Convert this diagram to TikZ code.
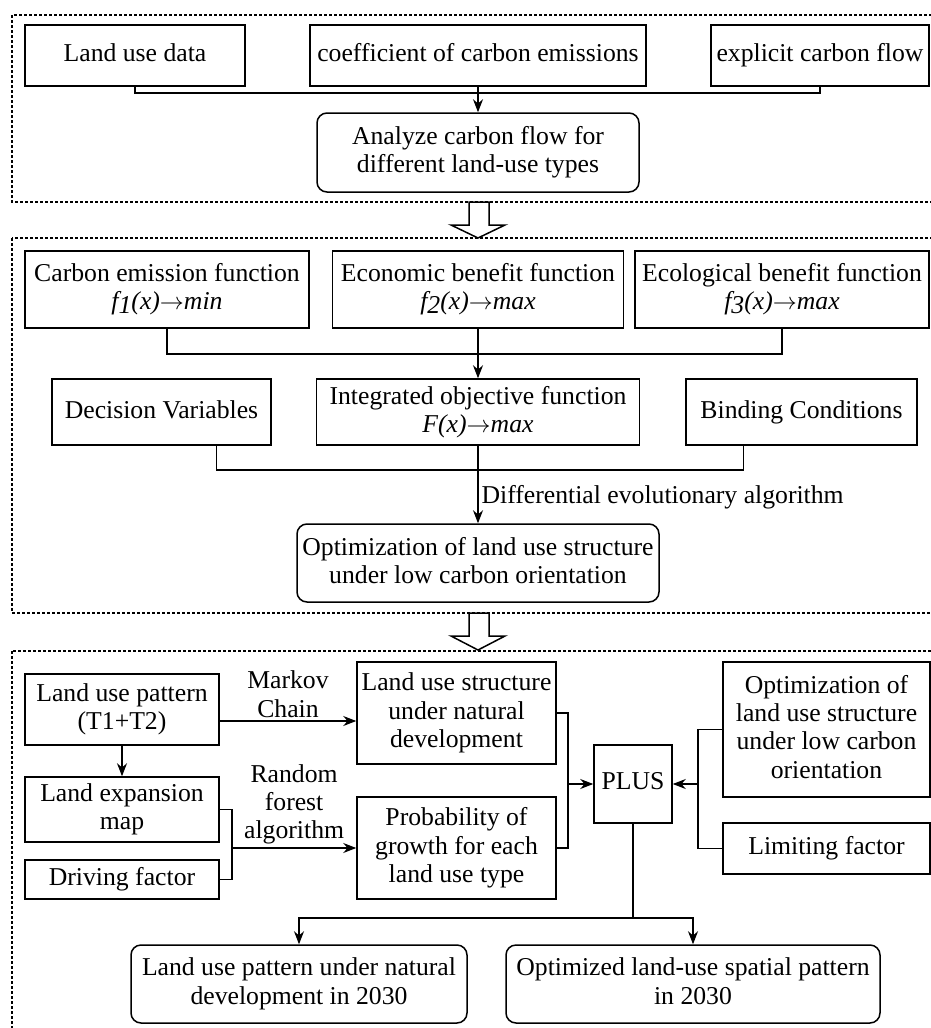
\documentclass[tikz,border=0pt]{standalone}
\usepackage{fontspec}
\setmainfont{Liberation Serif}
\usepackage{tikz}
\usetikzlibrary{arrows.meta,calc}

\tikzset{
  box/.style={draw, line width=0.75pt, fill=white, align=center, inner sep=1pt, font={\fontsize{12.85}{14.2}\selectfont},
    execute at begin node={\vphantom{Ag}}, execute at end node={\vphantom{g}}},
  rbox/.style={box, rounded corners=5pt},
  sect/.style={draw, line width=0.6pt, dash pattern=on 1.5pt off 1pt},
  hollow/.style={draw, line width=0.75pt, fill=white},
  lbl/.style={align=center, inner sep=1.5pt, font={\fontsize{12.85}{14.2}\selectfont}},
}
\newcommand{\fxto}[2]{\textit{#1\raisebox{-.3ex}{#2}(x)}\ensuremath{\rightarrow}}

\begin{document}
\begin{tikzpicture}[x=0.5pt, y=-0.5pt, line width=0.6pt, >={Stealth[length=6.5pt,width=5pt]}]
      \useasboundingbox (0,0) rectangle (931,1028);
      % dashed frames and hollow arrows
      \draw[sect] (12,15) rectangle (940,202);
      \draw[sect] (12,238) rectangle (940,613);
      \draw[sect] (12,651) rectangle (940,1040);
      \draw[hollow] (469,202) -- (469,225) -- (451,225) -- (478,238) -- (505,225) -- (489,225) -- (489,202) -- cycle;
      \draw[hollow] (469,613) -- (469,636) -- (451,636) -- (478,650) -- (505,636) -- (489,636) -- (489,613) -- cycle;

      % part 1
      \node[box, minimum width=110pt, minimum height=30.5pt] (lud) at (135,55.5) {Land use data};
      \node[box, minimum width=168pt, minimum height=30.5pt] (coef) at (478,55.5) {coefficient of carbon emissions};
      \node[box, minimum width=109pt, minimum height=30.5pt] (expl) at (820,55.5) {explicit carbon flow};
      \node[rbox, minimum width=161pt, minimum height=39.5pt] (ana) at (478,152.5) {Analyze carbon flow for\\different land-use types};
      \coordinate (j1) at (478,93);
      \draw (lud.south) |- (j1) -| (expl.south);
      \draw[->] (coef.south) -- (ana.north);

      % part 2
      \node[box, minimum width=142pt, minimum height=38.5pt] (cef) at (167,289.5) {Carbon emission function\\\fxto{f}{1}\textit{min}};
      \node[box, minimum width=145.5pt, minimum height=38.5pt] (ebf) at (478,289.5) {Economic benefit function\\\fxto{f}{2}\textit{max}};
      \node[box, minimum width=147pt, minimum height=38.5pt] (ecobf) at (782,289.5) {Ecological benefit function\\\fxto{f}{3}\textit{max}};
      \node[box, minimum width=109.5pt, minimum height=33pt] (dv) at (161.5,412) {Decision Variables};
      \node[box, minimum width=161.5pt, minimum height=33pt] (iof) at (478,412) {Integrated objective function\\\textit{F(x)}\ensuremath{\rightarrow}\textit{max}};
      \node[box, minimum width=115.5pt, minimum height=33pt] (bc) at (801.5,412) {Binding Conditions};
      \node[rbox, minimum width=181pt, minimum height=39pt] (opt) at (478,563) {Optimization of land use structure\\under low carbon orientation};
      \coordinate (j2) at (478,354);
      \coordinate (j3) at (478,470);
      \draw (cef.south) |- (j2) -| (ecobf.south);
      \draw[->] (ebf.south) -- (iof.north);
      \draw ($(dv.south)!.5!(dv.south east)$) |- (j3) -| ($(bc.south)!.5!(bc.south west)$);
      \draw[->] (iof.south) -- node[lbl, right, pos=.67] {Differential evolutionary algorithm} (opt.north);

      % part 3
      \node[box, minimum width=97pt, minimum height=35.5pt] (lup) at (122,709.5) {Land use pattern\\(T1+T2)};
      \node[box, minimum width=97pt, minimum height=32.5pt] (lem) at (122,809.5) {Land expansion\\map};
      \node[box, minimum width=97pt, minimum height=19.5pt] (dfa) at (122,879.5) {Driving factor};
      \node[box, minimum width=99.5pt, minimum height=51pt] (lus) at (456.5,713) {Land use structure\\under natural\\development};
      \node[box, minimum width=99.5pt, minimum height=51pt] (pgt) at (456.5,848) {Probability of\\growth for each\\land use type};
      \node[box, minimum width=39pt, minimum height=39pt] (plus) at (633,784) {PLUS};
      \node[box, minimum width=103.5pt, minimum height=67.5pt] (ops) at (826.5,729.5) {Optimization of\\land use structure\\under low carbon\\orientation};
      \node[box, minimum width=103.5pt, minimum height=25.5pt] (lim) at (826.5,848.5) {Limiting factor};
      \node[rbox, minimum width=168pt, minimum height=39pt] (bl) at (299,984) {Land use pattern under natural\\development in 2030};
      \node[rbox, minimum width=187pt, minimum height=39pt] (br) at (693,984) {Optimized land-use spatial pattern\\in 2030};
      \coordinate (j4) at (232,848);
      \coordinate (j5) at (568,784);
      \coordinate (j6) at (698,784);
      \coordinate (j7) at (633,918);
      \draw[->] ([yshift=-5.75pt]lup.east) -- node[lbl, above] {Markov\\Chain} ([yshift=-5.75pt]lup.east -| lus.west);
      \draw[->] (lup.south) -- (lem.north);
      \draw (lem.east) -| (j4) |- (dfa.east);
      \draw[->] (j4) -- node[lbl, above] {Random\\forest\\algorithm} (pgt.west);
      \draw (lus.east) -| (j5) |- (pgt.east);
      \draw[->] (j5) -- (plus.west);
      \draw (ops.west) -| (j6) |- (lim.west);
      \draw[->] (j6) -- (plus.east);
      \draw (plus.south) -- (j7);
      \draw[->] (j7) -| (bl.north);
      \draw[->] (j7) -| (br.north);
\end{tikzpicture}
\end{document}
